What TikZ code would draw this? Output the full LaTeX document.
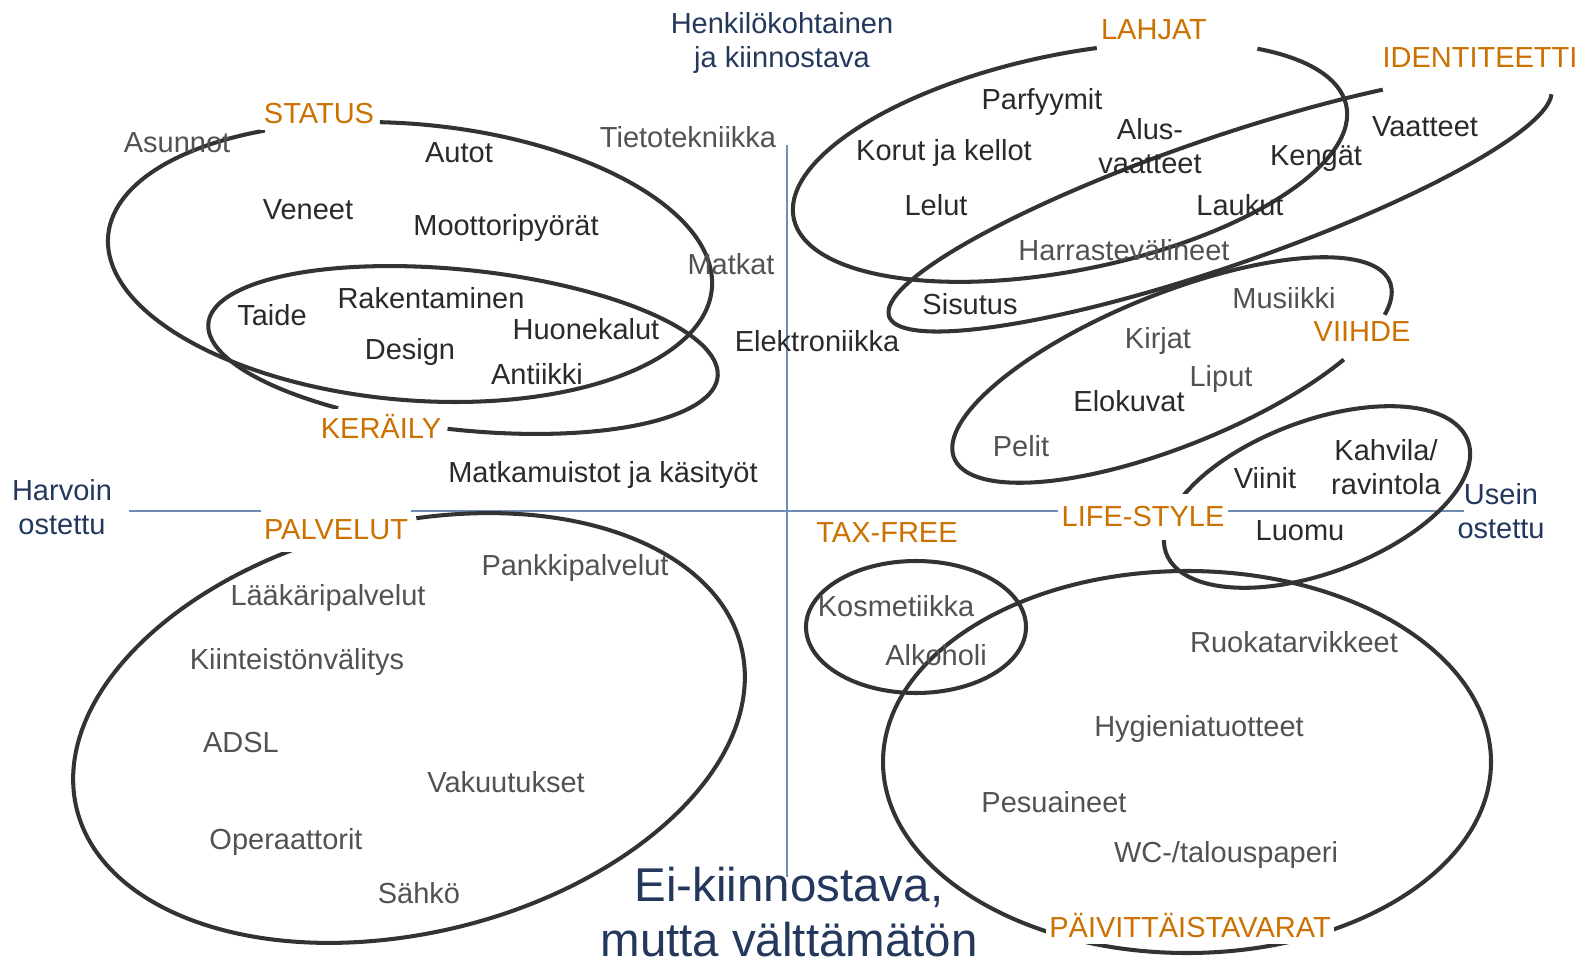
\documentclass[tikz,border=0pt]{standalone}
\usepackage{fontspec}
\setmainfont{Liberation Sans}
\definecolor{ringgray}{RGB}{51,51,51}
\definecolor{itemdark}{RGB}{42,42,42}
\definecolor{itemgray}{RGB}{82,82,82}
\definecolor{grouporange}{RGB}{204,112,0}
\definecolor{axisnavy}{RGB}{35,56,92}
\definecolor{axisblue}{RGB}{112,141,184}

\begin{document}
\begin{tikzpicture}[x=0.02cm,y=-0.02cm,
    every node/.style={font=\fontsize{16.5}{19.6}\selectfont, inner sep=1pt},
    item/.style={text=itemdark, align=center},
    itemlight/.style={text=itemgray, align=center},
    group/.style={text=grouporange, fill=white, inner xsep=2pt, inner ysep=3pt},
    axislabel/.style={text=axisnavy, align=center},
    ring/.style={draw=ringgray, line width=2.3pt},
    axis/.style={draw=axisblue, line width=1.1pt}]
\useasboundingbox (0,0) rectangle (1585,962);

% axes
\coordinate (west) at (129,511);
\coordinate (east) at (1464,511);
\coordinate (north) at (787,145);
\coordinate (south) at (787,877);
\draw[axis] (west) -- (east);
\draw[axis] (north) -- (south);

% groups
\begin{scope}[shift={(410,262)}, rotate=-5]
  \draw[ring] (262:303 and 138) arc[start angle=262, end angle=599, x radius=303, y radius=138];
\end{scope}
\begin{scope}[shift={(463,350)}, rotate=-6]
  \draw[ring] (117.5:256 and 80) arc[start angle=117.5, end angle=451.6, x radius=256, y radius=80];
\end{scope}
\begin{scope}[shift={(1070,162)}, rotate=11.5]
  \draw[ring] (-43:282 and 108) arc[start angle=-43, end angle=280, x radius=282, y radius=108];
\end{scope}
\begin{scope}[shift={(1220,202.5)}, rotate=19]
  \draw[ring] (5:350 and 64) arc[start angle=5, end angle=303, x radius=350, y radius=64];
\end{scope}
\begin{scope}[shift={(1172,370)}, rotate=22]
  \draw[ring] (46:235 and 76) arc[start angle=46, end angle=382, x radius=235, y radius=76];
\end{scope}
\begin{scope}[shift={(1317,497)}, rotate=20.5]
  \draw[ring] (218:161 and 76) arc[start angle=218, end angle=553, x radius=161, y radius=76];
\end{scope}
\begin{scope}[shift={(409,728)}, rotate=13.6]
  \draw[ring] (279.5:342 and 205) arc[start angle=279.5, end angle=621.5, x radius=342, y radius=205];
\end{scope}
\draw[ring] (916,627) ellipse[x radius=110, y radius=66];
\draw[ring] (1187,762) ellipse[x radius=304, y radius=191];

% items, upper left
\node[itemlight] (asunnot) at (177,143) {Asunnot};
\node[item] (autot) at (459,153) {Autot};
\node[item] (veneet) at (308,210) {Veneet};
\node[item] (moottori) at (506,228) {Moottoripyörät};
\node[itemlight] (tieto) at (688,137) {Tietotekniikka};
\node[itemlight] (matkat) at (731,264) {Matkat};
\node[item] (taide) at (272,315) {Taide};
\node[item] (rakent) at (431,298) {Rakentaminen};
\node[item] (huone) at (586,329) {Huonekalut};
\node[item] (design) at (410,352) {Design};
\node[item] (antiikki) at (537,374) {Antiikki};
\node[item] (elektro) at (817,341) {Elektroniikka};
\node[item] (matkamuistot) at (603,475) {Matkamuistot ja käsityöt};

% items, upper right
\node[item] (parfyymit) at (1042,102) {Parfyymit};
\node[item] (alus) at (1150,146) {Alus-\\vaatteet};
\node[item] (korut) at (944,153) {Korut ja kellot};
\node[item] (vaatteet) at (1425,127) {Vaatteet};
\node[item] (kengat) at (1316,159) {Kengät};
\node[item] (lelut) at (936,205) {Lelut};
\node[item] (laukut) at (1240,205) {Laukut};
\node[itemlight] (harraste) at (1124,250) {Harrastevälineet};
\node[item] (sisutus) at (970,304) {Sisutus};
\node[itemlight] (musiikki) at (1284,298) {Musiikki};
\node[itemlight] (kirjat) at (1158,341) {Kirjat};
\node[itemlight] (liput) at (1221,379) {Liput};
\node[item] (elokuvat) at (1129,401) {Elokuvat};
\node[itemlight] (pelit) at (1021,446) {Pelit};
\node[item] (viinit) at (1265,478) {Viinit};
\node[item] (kahvila) at (1386,467) {Kahvila/\\ravintola};
\node[item] (luomu) at (1300,531) {Luomu};

% items, lower left
\node[itemlight] (pankki) at (575,568) {Pankkipalvelut};
\node[itemlight] (laakari) at (328,598) {Lääkäripalvelut};
\node[itemlight] (kiinteisto) at (297,662) {Kiinteistönvälitys};
\node[itemlight] (adsl) at (241,743) {ADSL};
\node[itemlight] (vakuutus) at (506,782) {Vakuutukset};
\node[itemlight] (operaattori) at (286,842) {Operaattorit};
\node[itemlight] (sahko) at (419,893) {Sähkö};

% items, lower right
\node[itemlight] (kosmetiikka) at (896,606) {Kosmetiikka};
\node[itemlight] (alkoholi) at (936,655) {Alkoholi};
\node[itemlight] (ruoka) at (1294,642) {Ruokatarvikkeet};
\node[itemlight] (hygienia) at (1199,729) {Hygieniatuotteet};
\node[itemlight] (pesu) at (1054,802) {Pesuaineet};
\node[itemlight] (wc) at (1226,855) {WC-/talouspaperi};

% group labels
\node[group] (status) at (319,114) {STATUS};
\node[group] (keraily) at (381,426) {KERÄILY};
\node[group] (lahjat) at (1154,30) {LAHJAT};
\node[group] (identiteetti) at (1480,58) {IDENTITEETTI};
\node[group] (viihde) at (1362,332) {VIIHDE};
\node[group, inner ysep=7pt] (lifestyle) at (1143,517) {LIFE-STYLE};
\node[group] (taxfree) at (887,533) {TAX-FREE};
\node[group, inner ysep=7pt] (palvelut) at (336,530) {PALVELUT};
\node[group] (paivittais) at (1190,926) {PÄIVITTÄISTAVARAT};

% axis labels
\node[axislabel] (personal) at (782,43) {Henkilökohtainen\\ja kiinnostava};
\node[axislabel] (harvoin) at (62,507) {Harvoin\\ostettu};
\node[axislabel] (usein) at (1501,511) {Usein\\ostettu};
\node[axislabel, font=\fontsize{27}{31}\selectfont] (necessary) at (789,912) {Ei-kiinnostava,\\mutta välttämätön};
\end{tikzpicture}
\end{document}
